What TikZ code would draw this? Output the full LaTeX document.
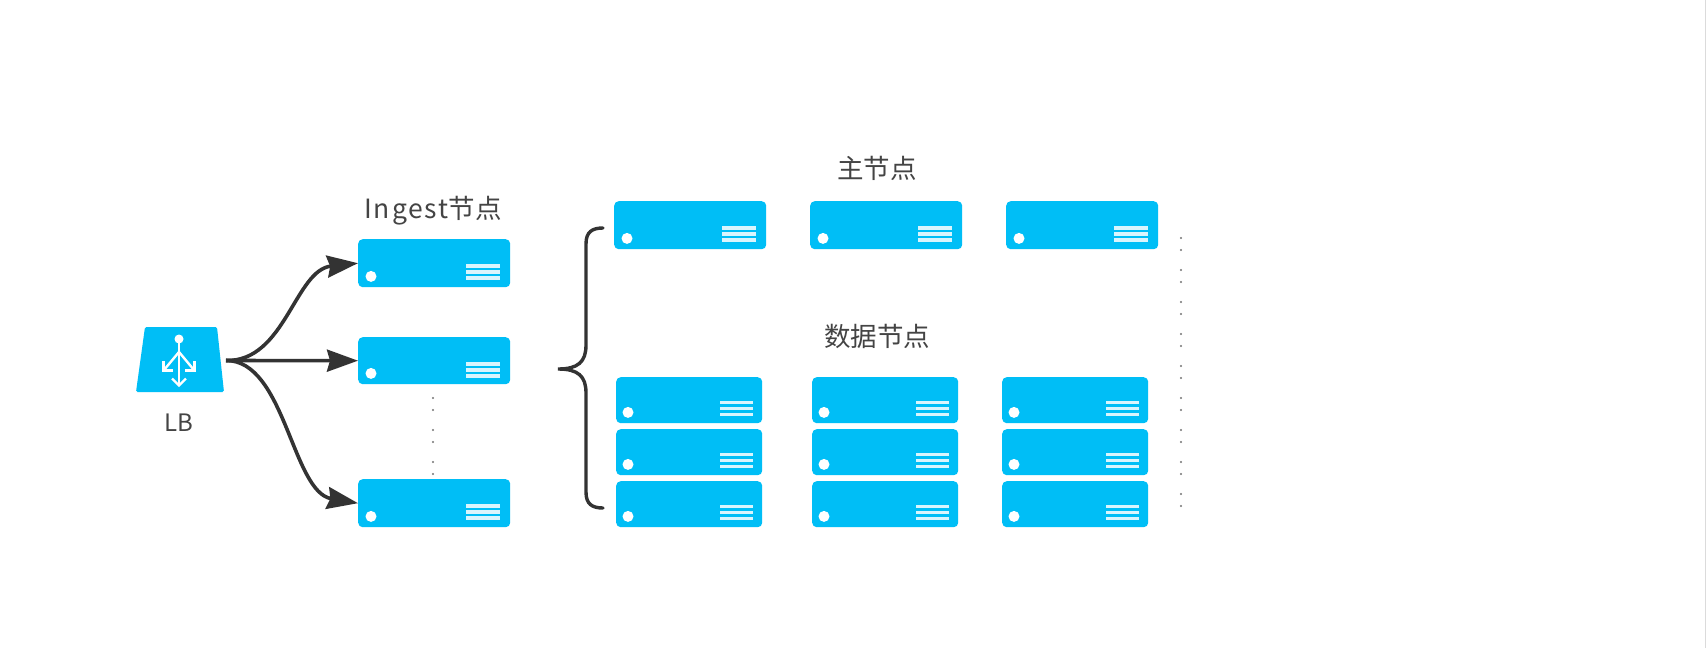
\documentclass[tikz,border=0pt]{standalone}
\usepackage{fontspec}
\setmainfont{Noto Sans CJK SC}
\usetikzlibrary{arrows.meta}
\definecolor{srvblue}{HTML}{00BEF6}
\definecolor{inkdark}{HTML}{333333}
\definecolor{labelgrey}{HTML}{444444}
\tikzset{
  srvbox/.style={fill=srvblue,rounded corners=4.5pt,inner sep=0pt,anchor=north west,draw=none},
  lbl/.style={text=labelgrey,font=\fontsize{26.5}{30}\selectfont,inner sep=0pt},
  lblsmall/.style={text=labelgrey,font=\fontsize{24}{28}\selectfont,inner sep=0pt},
  flow/.style={draw=inkdark,line width=3.6pt,-{Stealth[length=31pt,width=22pt,inset=3pt]}},
  bracepath/.style={draw=inkdark,line width=3.4pt,line cap=round},
  tinydot/.style={fill=black!55},
  lbarrow/.style={draw=white,line width=2.4pt},
}
\newcommand{\server}[5]{%
  \node[srvbox,minimum width=#4pt,minimum height=#5pt] (#1) at (#2,#3) {};
  \fill[white] ([shift={(13,-11)}]#1.south west) circle (5.5pt);
  \foreach \yy in {25.2,31.2,37.2}
    \fill[white,opacity=.85] ([shift={(-44,\yy)}]#1.north east) rectangle ++(34,3.4);
}
\newcommand{\dserver}[5]{%
  \node[srvbox,minimum width=#4pt,minimum height=#5pt] (#1) at (#2,#3) {};
  \fill[white] ([shift={(12,-11)}]#1.south west) circle (5.5pt);
  \foreach \yy in {24,29.8,35.5}
    \fill[white,opacity=.85] ([shift={(-42,\yy)}]#1.north east) rectangle ++(33,3.2);
}
\begin{document}
\begin{tikzpicture}[x=1pt,y=-1pt]
\useasboundingbox (0,0) rectangle (1706,648);
\fill[white] (0,0) rectangle (1706,648);
\fill[black!14] (1705,0) rectangle (1706,648);
% LB
\fill[srvblue,rounded corners=1.5pt] (145,327) -- (217,327) -- (224,392) -- (136,392) -- cycle;
\coordinate (lbout) at (226,360.5);
\node[lblsmall] (lblb) at (179,423) {LB};
\fill[white] (179,339) circle (4.5pt);
\draw[lbarrow] (179,339) -- (179,385);
\draw[lbarrow] (179,352) -- (164,370);
\draw[lbarrow] (179,352) -- (194,370);
\draw[lbarrow] (172,378.5) -- (179,385.5) -- (186,378.5);
\draw[lbarrow] (163.5,361) -- (163.5,370.5) -- (173,370.5);
\draw[lbarrow] (194.5,361) -- (194.5,370.5) -- (185,370.5);
% Ingest
\node[lbl] (lingest) at (433,211) {{\addfontfeature{LetterSpace=7}Ingest}节点};
\server{ia}{358}{239}{152}{48}
\server{ib}{358}{337}{152}{47}
\server{ic}{358}{479}{152}{48}
\foreach \yy in {398,410,430,442,462,474}
  \fill[tinydot] (433,\yy) circle (1.1pt);
% connectors
\draw[flow] (lbout) .. controls (285,362) and (295,270) .. (ia.west);
\draw[flow] (lbout) -- (ib.west);
\draw[flow] (lbout) .. controls (285,360) and (292,492) .. (ic.west);
% brace
\coordinate (brtop) at (603,228);
\coordinate (brtip) at (558,369);
\coordinate (brbot) at (603,508);
\draw[bracepath] (brtop) .. controls (592,228) and (586,232) .. (586,244) -- (586,345)
  .. controls (586,362) and (578,369) .. (brtip)
  .. controls (578,369) and (586,376) .. (586,393) -- (586,492)
  .. controls (586,504) and (592,508) .. (brbot);
% master
\node[lbl] (lmaster) at (877,168) {主节点};
\server{ma}{614}{201}{152}{48}
\server{mb}{810}{201}{152}{48}
\server{mc}{1006}{201}{152}{48}
% data
\node[lbl] (ldata) at (877,336) {数据节点};
\foreach \cx/\cl in {616/a,812/b,1002/c}{
  \dserver{d\cl1}{\cx}{377}{146}{46}
  \dserver{d\cl2}{\cx}{429}{146}{46}
  \dserver{d\cl3}{\cx}{481}{146}{46}
}
\foreach \yy in {238,270,302,334,366,398,430,462,494}{
  \fill[tinydot] (1181,\yy) circle (1.1pt);
  \fill[tinydot] (1181,\yy+12) circle (1.1pt);
}
\end{tikzpicture}
\end{document}
